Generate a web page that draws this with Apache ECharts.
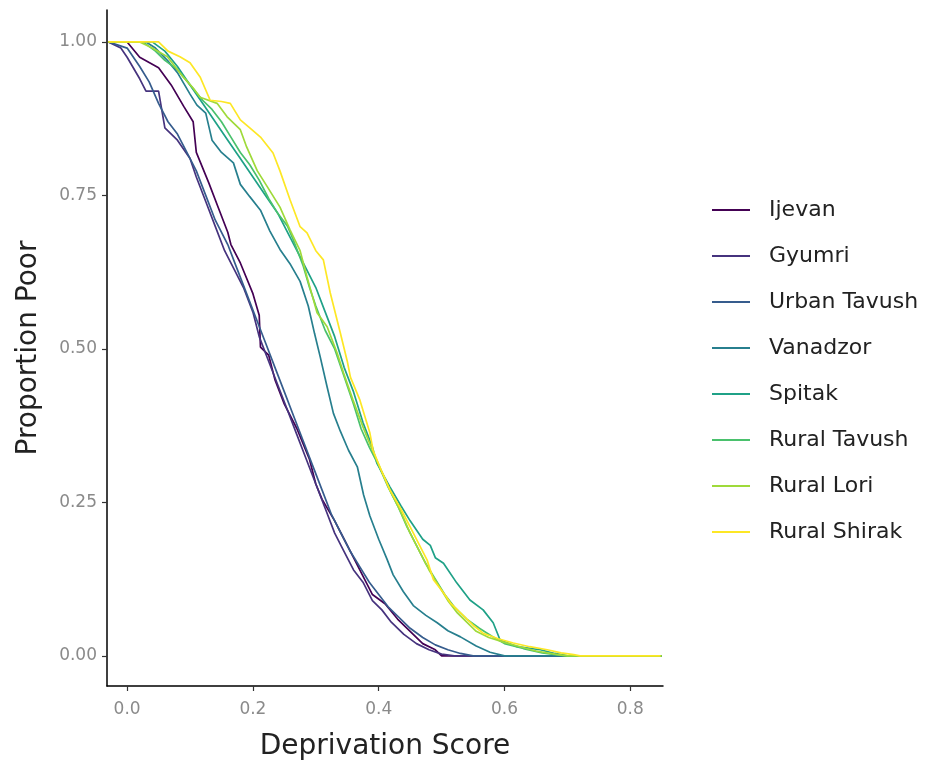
<!DOCTYPE html>
<html>
<head>
<meta charset="utf-8">
<script src="https://cdn.jsdelivr.net/npm/echarts@6/dist/echarts.min.js"></script>
<style>
html,body{margin:0;padding:0;background:#fff;}
#chart{width:933px;height:765px;}
</style>
</head>
<body>
<div id="chart"></div>
<script>
const seriesNames = ["Ijevan","Gyumri","Urban Tavush","Vanadzor","Spitak","Rural Tavush","Rural Lori","Rural Shirak"];
const colors = ["#440154","#46337E","#365C8D","#277F8E","#1FA187","#4AC16D","#9FDA3A","#FDE725"];
const xTicks = [0, 0.2, 0.4, 0.6, 0.8];
const yTicks = [0, 0.25, 0.5, 0.75, 1];

const ijevan = [[-0.03,1],[0.0,1],[0.02,0.975],[0.05,0.958],[0.07,0.93],[0.09,0.895],[0.105,0.87],[0.11,0.82],[0.13,0.77],[0.145,0.73],[0.16,0.69],[0.165,0.67],[0.18,0.64],[0.2,0.59],[0.21,0.555],[0.212,0.503],[0.225,0.49],[0.235,0.45],[0.25,0.41],[0.27,0.37],[0.29,0.32],[0.3,0.28],[0.31,0.255],[0.33,0.22],[0.345,0.19],[0.36,0.16],[0.375,0.13],[0.39,0.1],[0.41,0.085],[0.43,0.06],[0.45,0.04],[0.47,0.02],[0.49,0.01],[0.5,0],[0.85,0]];
const gyumri = [[-0.03,1],[-0.01,0.99],[0.0,0.975],[0.02,0.94],[0.03,0.92],[0.05,0.92],[0.06,0.86],[0.08,0.84],[0.1,0.81],[0.11,0.78],[0.125,0.74],[0.14,0.70],[0.155,0.66],[0.17,0.63],[0.185,0.6],[0.2,0.56],[0.21,0.52],[0.225,0.48],[0.24,0.44],[0.255,0.4],[0.27,0.36],[0.285,0.32],[0.3,0.28],[0.315,0.24],[0.33,0.2],[0.345,0.17],[0.36,0.14],[0.375,0.12],[0.39,0.09],[0.405,0.075],[0.42,0.055],[0.44,0.035],[0.46,0.02],[0.48,0.01],[0.5,0.003],[0.52,0],[0.85,0]];
const urbanTavush = [[-0.03,1],[0.0,0.99],[0.02,0.96],[0.035,0.935],[0.05,0.9],[0.065,0.87],[0.08,0.85],[0.095,0.82],[0.11,0.79],[0.125,0.75],[0.14,0.71],[0.16,0.67],[0.175,0.63],[0.19,0.59],[0.205,0.55],[0.22,0.51],[0.235,0.47],[0.25,0.43],[0.265,0.39],[0.28,0.35],[0.295,0.31],[0.31,0.27],[0.325,0.23],[0.34,0.2],[0.355,0.17],[0.37,0.145],[0.385,0.12],[0.4,0.1],[0.415,0.08],[0.43,0.065],[0.45,0.045],[0.47,0.03],[0.49,0.018],[0.51,0.01],[0.53,0.004],[0.55,0],[0.85,0]];
const vanadzor = [[-0.03,1],[0.03,1.0],[0.045,0.99],[0.064,0.97],[0.08,0.95],[0.1,0.915],[0.111,0.897],[0.125,0.884],[0.135,0.84],[0.15,0.82],[0.169,0.803],[0.18,0.768],[0.195,0.748],[0.212,0.726],[0.227,0.692],[0.243,0.662],[0.26,0.637],[0.275,0.61],[0.288,0.57],[0.298,0.525],[0.307,0.487],[0.318,0.438],[0.328,0.395],[0.339,0.366],[0.352,0.335],[0.366,0.308],[0.376,0.262],[0.386,0.228],[0.4,0.19],[0.413,0.158],[0.423,0.132],[0.439,0.105],[0.455,0.082],[0.475,0.066],[0.493,0.054],[0.51,0.041],[0.53,0.031],[0.555,0.016],[0.577,0.006],[0.6,0],[0.85,0]];
const spitak = [[-0.03,1],[0.025,1],[0.04,1.0],[0.06,0.985],[0.08,0.96],[0.1,0.93],[0.12,0.9],[0.14,0.87],[0.16,0.84],[0.18,0.81],[0.2,0.78],[0.22,0.75],[0.24,0.72],[0.26,0.68],[0.28,0.64],[0.3,0.6],[0.315,0.56],[0.33,0.52],[0.345,0.47],[0.36,0.43],[0.375,0.38],[0.39,0.34],[0.397,0.314],[0.418,0.275],[0.435,0.245],[0.45,0.22],[0.47,0.19],[0.482,0.18],[0.49,0.16],[0.503,0.151],[0.524,0.119],[0.545,0.091],[0.566,0.075],[0.582,0.054],[0.593,0.026],[0.62,0.015],[0.657,0.01],[0.68,0.004],[0.7,0],[0.85,0]];
const ruralTavush = [[-0.03,1],[0.025,1],[0.045,0.985],[0.06,0.97],[0.08,0.955],[0.1,0.93],[0.12,0.905],[0.135,0.89],[0.15,0.87],[0.165,0.845],[0.18,0.82],[0.195,0.8],[0.21,0.775],[0.225,0.745],[0.24,0.72],[0.255,0.7],[0.264,0.678],[0.28,0.635],[0.29,0.6],[0.3,0.57],[0.315,0.53],[0.33,0.5],[0.345,0.455],[0.36,0.41],[0.372,0.37],[0.385,0.34],[0.4,0.31],[0.415,0.275],[0.43,0.245],[0.445,0.21],[0.46,0.18],[0.475,0.15],[0.49,0.125],[0.505,0.1],[0.52,0.08],[0.54,0.06],[0.56,0.045],[0.58,0.032],[0.6,0.02],[0.63,0.012],[0.66,0.005],[0.69,0.001],[0.7,0],[0.85,0]];
const ruralLori = [[-0.03,1],[0.02,1],[0.04,0.99],[0.064,0.976],[0.089,0.943],[0.105,0.925],[0.116,0.91],[0.143,0.9],[0.159,0.878],[0.18,0.857],[0.19,0.829],[0.207,0.79],[0.223,0.764],[0.243,0.731],[0.259,0.694],[0.275,0.66],[0.286,0.617],[0.302,0.559],[0.318,0.536],[0.334,0.493],[0.344,0.461],[0.359,0.417],[0.375,0.373],[0.39,0.335],[0.405,0.3],[0.42,0.265],[0.435,0.235],[0.45,0.2],[0.465,0.17],[0.48,0.14],[0.495,0.115],[0.51,0.09],[0.525,0.07],[0.54,0.055],[0.555,0.04],[0.575,0.03],[0.6,0.022],[0.625,0.015],[0.65,0.008],[0.68,0.003],[0.7,0],[0.85,0]];
const ruralShirak = [[-0.03,1],[0.05,1.0],[0.065,0.985],[0.084,0.976],[0.1,0.966],[0.116,0.943],[0.132,0.905],[0.15,0.903],[0.164,0.9],[0.18,0.873],[0.195,0.86],[0.212,0.845],[0.232,0.819],[0.243,0.79],[0.259,0.743],[0.275,0.699],[0.286,0.689],[0.3,0.66],[0.312,0.645],[0.323,0.591],[0.339,0.526],[0.35,0.48],[0.355,0.454],[0.37,0.417],[0.386,0.363],[0.391,0.335],[0.405,0.3],[0.418,0.27],[0.435,0.24],[0.45,0.21],[0.465,0.18],[0.477,0.156],[0.487,0.124],[0.503,0.103],[0.515,0.085],[0.53,0.07],[0.55,0.05],[0.566,0.037],[0.59,0.028],[0.614,0.021],[0.64,0.015],[0.668,0.01],[0.69,0.005],[0.71,0.002],[0.72,0],[0.848,0]];

const allData = [ijevan, gyumri, urbanTavush, vanadzor, spitak, ruralTavush, ruralLori, ruralShirak];
const FONT = "DejaVu Sans";

const chart = echarts.init(document.getElementById('chart'), null, {renderer:'canvas'});
chart.setOption({
  animation: false,
  backgroundColor: '#ffffff',
  color: colors,
  grid: {left: 107, right: 270, top: 10, bottom: 79, containLabel: false, outerBoundsMode: 'none'},
  legend: {
    orient: 'vertical', left: 712, top: 199, padding: 0, itemWidth: 38, itemHeight: 22, itemGap: 24,
    icon: 'path://M0,6 L38,6 L38,8 L0,8 Z',
    textStyle: {fontFamily: FONT, fontSize: 22, lineHeight: 22, color: '#222', padding: [0,0,0,14]},
    data: seriesNames
  },
  xAxis: {
    type: 'value', min: -0.032, max: 0.852,
    name: 'Deprivation Score', nameLocation: 'middle', nameGap: 47,
    nameTextStyle: {fontFamily: FONT, fontSize: 28, color: '#222'},
    axisLine: {show: true, onZero: false, lineStyle: {color: '#000', width: 1.5}},
    axisTick: {show: true, length: 5, lineStyle: {color: '#333', width: 1.2}, customValues: xTicks},
    axisLabel: {fontFamily: FONT, fontSize: 17, color: '#8a8a8a', margin: 15, customValues: xTicks,
      formatter: v => v.toFixed(1)},
    splitLine: {show: false}
  },
  yAxis: {
    type: 'value', min: -0.049, max: 1.052,
    name: 'Proportion Poor', nameLocation: 'middle', nameGap: 64, nameRotate: 90,
    nameTextStyle: {fontFamily: FONT, fontSize: 28, color: '#222'},
    axisLine: {show: true, onZero: false, lineStyle: {color: '#000', width: 1.5}},
    axisTick: {show: true, length: 5, lineStyle: {color: '#333', width: 1.2}, customValues: yTicks},
    axisLabel: {fontFamily: FONT, fontSize: 17, color: '#8a8a8a', margin: 10, customValues: yTicks,
      formatter: v => v.toFixed(2)},
    splitLine: {show: false}
  },
  series: seriesNames.map((n, i) => ({
    name: n, type: 'line', data: allData[i], showSymbol: false, symbol: 'none',
    lineStyle: {width: 1.7, color: colors[i]}, itemStyle: {color: colors[i]}, z: 2 + i
  }))
});
</script>
</body>
</html>
